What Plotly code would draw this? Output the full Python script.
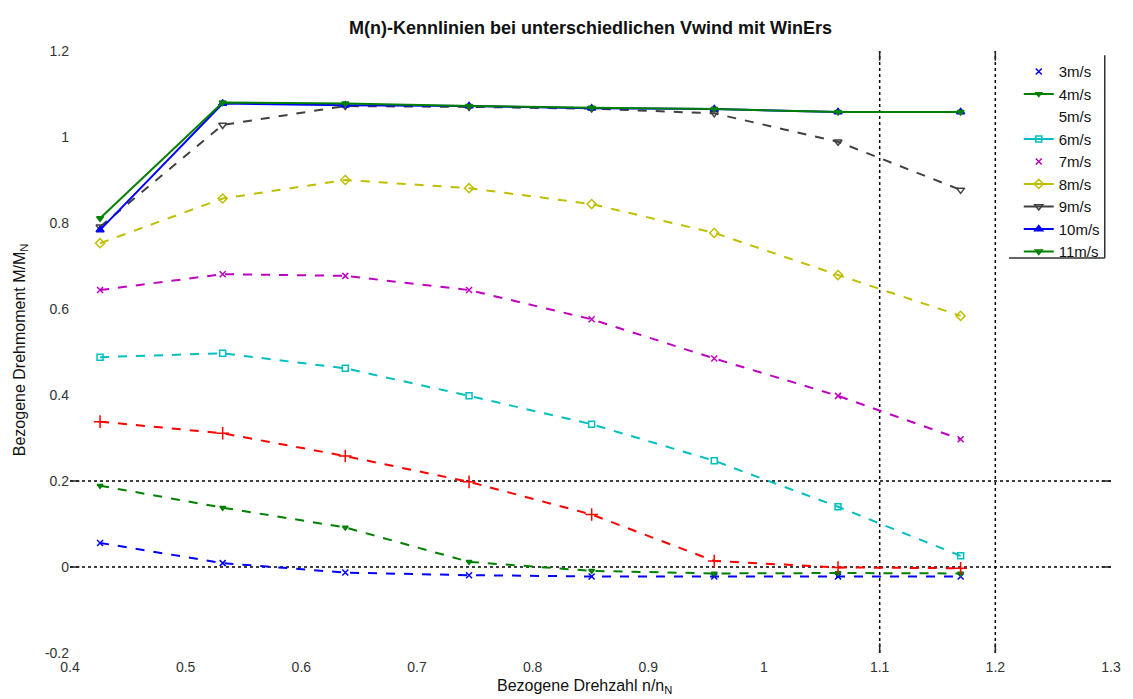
import plotly.graph_objects as go

# Relative speed n/n_N at which the torque was measured
n_rel = [0.426, 0.532, 0.638, 0.745, 0.851, 0.957, 1.064, 1.170]

# Relative torque M/M_N per wind speed
wind_labels = ["3m/s", "4m/s", "5m/s", "6m/s", "7m/s", "8m/s", "9m/s", "10m/s", "11m/s"]
m_3 = [0.056, 0.009, -0.013, -0.019, -0.022, -0.022, -0.022, -0.022]
m_4 = [0.189, 0.138, 0.092, 0.012, -0.009, -0.015, -0.014, -0.015]
m_5 = [0.338, 0.311, 0.258, 0.198, 0.122, 0.014, -0.001, -0.003]
m_6 = [0.488, 0.497, 0.462, 0.398, 0.332, 0.247, 0.140, 0.026]
m_7 = [0.644, 0.681, 0.677, 0.644, 0.576, 0.485, 0.398, 0.297]
m_8 = [0.753, 0.857, 0.900, 0.881, 0.844, 0.777, 0.679, 0.584]
m_9 = [0.791, 1.028, 1.072, 1.070, 1.066, 1.055, 0.989, 0.877]
m_10 = [0.784, 1.078, 1.074, 1.072, 1.067, 1.065, 1.058, 1.058]
m_11 = [0.811, 1.080, 1.078, 1.072, 1.068, 1.065, 1.058, 1.058]
series = [m_3, m_4, m_5, m_6, m_7, m_8, m_9, m_10, m_11]

# Axis ticks
x_ticks = [0.4, 0.5, 0.6, 0.7, 0.8, 0.9, 1.0, 1.1, 1.2, 1.3]
x_tick_text = ["0.4", "0.5", "0.6", "0.7", "0.8", "0.9", "1", "1.1", "1.2", "1.3"]
y_ticks = [-0.2, 0, 0.2, 0.4, 0.6, 0.8, 1.0, 1.2]
y_tick_text = ["-0.2", "0", "0.2", "0.4", "0.6", "0.8", "1", "1.2"]

# Reference lines
grid_x = [1.1, 1.2]
grid_y = [0, 0.2]

# Styles per wind speed: colour, dash, marker symbol, marker size, legend mode
styles = [
    ("#0000ff", "dash", "x-thin-open", 6, "markers"),
    ("#008000", "dash", "triangle-down", 5, "lines+markers"),
    ("#ff0000", "dash", "cross-thin-open", 9, "none"),
    ("#00bfbf", "dash", "square-open", 6, "lines+markers"),
    ("#bf00bf", "dash", "x-thin-open", 6, "markers"),
    ("#bfbf00", "dash", "diamond-open", 7, "lines+markers"),
    ("#404040", "dash", "triangle-down-open", 7, "lines+markers"),
    ("#0000ff", "solid", "triangle-up", 7, "lines+markers"),
    ("#008000", "solid", "triangle-down", 6, "lines+markers"),
]

FONT = "Liberation Sans, Arial, Helvetica, sans-serif"

fig = go.Figure()

for label, values, (color, dash, symbol, size, leg_mode) in zip(wind_labels, series, styles):
    fig.add_trace(go.Scatter(
        x=n_rel, y=values, mode="lines+markers", name=label,
        line=dict(color=color, width=2, dash=dash),
        marker=dict(symbol=symbol, size=size, color=color,
                    line=dict(color=color, width=1.5)),
        showlegend=False, legendgroup=label,
    ))

# Legend entries
for label, (color, dash, symbol, size, leg_mode) in zip(wind_labels, styles):
    if leg_mode == "none":
        fig.add_trace(go.Scatter(
            x=[None], y=[None], mode="lines", name=label,
            line=dict(color="rgba(0,0,0,0)", width=2),
            legendgroup=label, showlegend=True,
        ))
    else:
        fig.add_trace(go.Scatter(
            x=[None], y=[None], mode=leg_mode, name=label,
            line=dict(color=color, width=2),
            marker=dict(symbol=symbol, size=size, color=color,
                        line=dict(color=color, width=1.5)),
            legendgroup=label, showlegend=True,
        ))

shapes = []
for gx in grid_x:
    shapes.append(dict(type="line", xref="x", yref="y", x0=gx, x1=gx,
                       y0=y_ticks[0], y1=y_ticks[-1],
                       line=dict(color="black", width=1.5, dash="dot"), layer="below"))
    shapes.append(dict(type="line", xref="x", yref="paper", x0=gx, x1=gx,
                       y0=0, y1=0.016, line=dict(color="#222", width=1.5)))
    shapes.append(dict(type="line", xref="x", yref="paper", x0=gx, x1=gx,
                       y0=0.984, y1=1, line=dict(color="#222", width=1.5)))
for gy in grid_y:
    shapes.append(dict(type="line", xref="x", yref="y", x0=x_ticks[0], x1=x_ticks[-1],
                       y0=gy, y1=gy,
                       line=dict(color="black", width=1.5, dash="dot"), layer="below"))
    shapes.append(dict(type="line", xref="paper", yref="y", x0=0, x1=0.009,
                       y0=gy, y1=gy, line=dict(color="#222", width=1.5)))
    shapes.append(dict(type="line", xref="paper", yref="y", x0=0.991, x1=1,
                       y0=gy, y1=gy, line=dict(color="#222", width=1.5)))

# Legend frame (right and bottom edges)
shapes.append(dict(type="line", xref="paper", yref="paper", x0=0.994, x1=0.994,
                   y0=0.656, y1=0.993, line=dict(color="#333", width=1.5)))
shapes.append(dict(type="line", xref="paper", yref="paper", x0=0.902, x1=0.994,
                   y0=0.656, y1=0.656, line=dict(color="#333", width=1.5)))

fig.update_layout(
    width=1133, height=699,
    margin=dict(l=70, r=19, t=51, b=46),
    paper_bgcolor="white", plot_bgcolor="white",
    font=dict(family=FONT, size=14, color="#222"),
    title=dict(text="<b>M(n)-Kennlinien bei unterschiedlichen Vwind mit WinErs</b>",
               x=0.5, xref="paper", y=0.96, yref="container", yanchor="middle",
               font=dict(family=FONT, size=18, color="#111")),
    xaxis=dict(range=[x_ticks[0], x_ticks[-1]], tickvals=x_ticks, ticktext=x_tick_text,
               showgrid=False, zeroline=False, showline=False, ticks="",
               ticklabelstandoff=4,
               tickfont=dict(size=14, color="#333")),
    yaxis=dict(range=[y_ticks[0], y_ticks[-1]], tickvals=y_ticks, ticktext=y_tick_text,
               showgrid=False, zeroline=False, showline=False, ticks="",
               tickfont=dict(size=14, color="#333")),
    legend=dict(x=0.994, xanchor="right", y=0.993, yanchor="top",
                bgcolor="rgba(0,0,0,0)", borderwidth=0,
                font=dict(family=FONT, size=15, color="#111"),
                tracegroupgap=0, itemwidth=30),
    shapes=shapes,
    annotations=[
        dict(text="Bezogene Drehzahl n/n<sub>N</sub>", xref="paper", yref="paper",
             x=0.494, y=-0.055, xanchor="center", yanchor="middle", showarrow=False,
             font=dict(family=FONT, size=16, color="#111")),
        dict(text="Bezogene Drehmoment M/M<sub>N</sub>", xref="paper", yref="paper",
             x=-0.048, y=0.503, xanchor="center", yanchor="middle", textangle=-90,
             showarrow=False, font=dict(family=FONT, size=16, color="#111")),
    ],
)

fig.write_html("out.html")
